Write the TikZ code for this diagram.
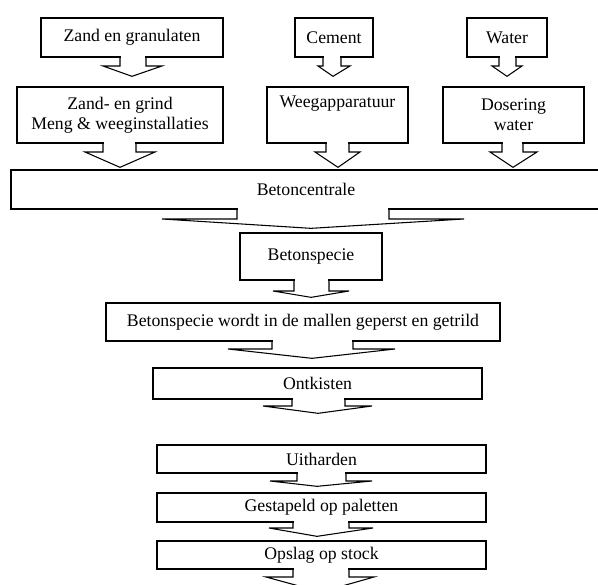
\documentclass[tikz,border=0pt]{standalone}
\usepackage{fontspec}
\setmainfont{Liberation Serif}
\usetikzlibrary{calc}
\tikzset{
  bx/.style={draw=black, fill=white, line width=1pt, inner sep=0pt, align=center,
    font=\fontsize{13.3}{15}\selectfont},
  arr/.style={draw=black, line width=0.8pt, line join=miter}
}
\newcommand\mkbox[6]{\node[bx, minimum width={(#4-#2)*0.75pt}, minimum height={(#5-#3)*0.75pt}] (#1) at ({(#2+#4)/2},{(#3+#5)/2}) {#6};}
% src, dst, xL, xR, yWing, xWingL, xWingR, xTip, gap
\newcommand\blk[9]{%
  \fill[white] ($(#3,0 |- #1.south)+(0.8,-2)$) rectangle ($(#4,0 |- #1.south)+(-0.8,2)$);
  \draw[arr] (#3,0 |- #1.south) -- (#3,#5) -- (#6,#5) -- ($(#8,0 |- #2.north)+(0,-#9)$) -- (#7,#5) -- (#4,#5) -- (#4,0 |- #1.south);}
\begin{document}
\begin{tikzpicture}[x=0.75pt,y=-0.75pt]
\useasboundingbox (0,0) rectangle (598,584);
\fill[white] (0,0) rectangle (598,584);
\mkbox{zg}{41}{18}{223}{57}{Zand en granulaten}
\mkbox{cem}{295}{18}{373}{57}{Cement}
\mkbox{wat}{467}{18}{547}{57}{Water}
\mkbox{zgm}{17}{87}{223}{143}{Zand- en grind\\Meng \& weeginstallaties}
\mkbox{weeg}{267}{87}{408}{143}{Weegapparatuur\\\strut}
\mkbox{dos}{443}{87}{584}{143}{Dosering\\water}
\mkbox{bc}{11}{170}{601}{209}{Betoncentrale}
\mkbox{bs}{240}{233}{382}{280}{Betonspecie}
\mkbox{bw}{106}{303}{500}{341}{Betonspecie wordt in de mallen geperst en getrild}
\mkbox{ont}{153}{368}{482}{399}{Ontkisten}
\mkbox{uit}{157}{445}{486}{473}{Uitharden}
\mkbox{ges}{157}{493}{486}{522}{Gestapeld op paletten}
\mkbox{ops}{157}{541}{486}{569}{Opslag op stock}
\coordinate (end) at (321,592);
\blk{zg}{zgm}{120}{146}{66}{103}{162}{132}{10}
\blk{zgm}{bc}{103}{136}{152}{85}{155}{120}{2}
\blk{cem}{weeg}{323}{341}{66}{318}{350}{333}{10}
\blk{weeg}{bc}{326}{349}{152}{315}{360}{338}{2}
\blk{wat}{dos}{499}{516}{66}{492}{522}{507}{10}
\blk{dos}{bc}{502}{523}{152}{490}{537}{513}{2}
\blk{bc}{bs}{237}{389}{219}{162}{464}{311}{4}
\blk{bs}{bw}{294}{329}{291}{273}{349}{311}{5}
\blk{bw}{ont}{272}{353}{349}{228}{395}{312}{9}
\blk{ont}{uit}{292}{345}{406}{263}{372}{318}{31}
\blk{uit}{ges}{297}{346}{481}{270}{372}{317}{6}
\blk{ges}{ops}{293}{349}{528}{269}{373}{317}{4}
\blk{ops}{end}{293}{349}{577}{266}{374}{321}{0}
\end{tikzpicture}
\end{document}
